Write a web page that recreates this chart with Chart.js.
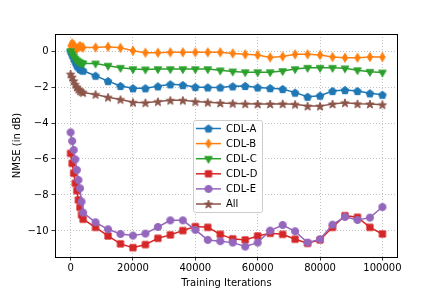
<!DOCTYPE html>
<html>
<head>
<meta charset="utf-8">
<script src="https://cdn.jsdelivr.net/npm/chart.js@4.4.0/dist/chart.umd.min.js"></script>
<style>
  html, body { margin: 0; padding: 0; background: #fff; }
  #chart { display: block; }
</style>
</head>
<body>
<canvas id="chart" width="443" height="295"></canvas>
<script>
// x values (training iterations)
const iterations = [0, 500, 1000, 1500, 2000, 2500, 3000, 3500, 4000,
  8000, 12000, 16000, 20000, 24000, 28000, 32000, 36000, 40000, 44000, 48000,
  52000, 56000, 60000, 64000, 68000, 72000, 76000, 80000, 84000, 88000, 92000, 96000, 100000];

const cdlA = [0, -0.2, -0.4, -0.6, -0.8, -0.9, -1.0, -1.05, -1.09,
  -1.37, -1.67, -1.94, -2.07, -2.07, -1.96, -1.85, -1.89, -2.0, -2.02, -2.02,
  -1.96, -1.94, -2.02, -2.06, -2.11, -2.31, -2.54, -2.48, -2.22, -2.17, -2.22, -2.35, -2.43];
const cdlB = [0.3, 0.43, 0.35, 0.2, 0.12, 0.22, 0.28, 0.22, 0.2,
  0.2, 0.24, 0.18, 0.02, -0.09, -0.09, -0.07, -0.07, -0.07, -0.07, -0.07,
  -0.13, -0.18, -0.22, -0.35, -0.3, -0.18, -0.18, -0.22, -0.33, -0.37, -0.37, -0.33, -0.33];
const cdlC = [0, -0.15, -0.3, -0.42, -0.52, -0.58, -0.63, -0.67, -0.69,
  -0.69, -0.81, -0.93, -1.0, -1.02, -1.0, -1.0, -1.0, -1.0, -1.0, -1.07,
  -1.13, -1.17, -1.17, -1.17, -1.11, -1.0, -0.93, -0.93, -0.93, -0.96, -1.06, -1.15, -1.19];
const cdlD = [-5.69, -6.24, -6.79, -7.35, -7.76, -8.28, -8.69, -9.11, -9.35,
  -9.8, -10.28, -10.72, -10.93, -10.76, -10.41, -10.22, -9.98, -9.76, -9.8, -10.19,
  -10.44, -10.5, -10.28, -10.13, -10.19, -10.46, -10.69, -10.5, -9.8, -9.15, -9.24, -9.8, -10.17];
const cdlE = [-4.52, -5.0, -5.5, -6.02, -6.61, -7.17, -7.63, -8.37, -8.98,
  -9.52, -9.91, -10.17, -10.26, -10.15, -9.78, -9.41, -9.41, -9.94, -10.5, -10.57,
  -10.65, -10.87, -10.65, -9.98, -9.67, -10.02, -10.65, -10.46, -9.65, -9.22, -9.39, -9.26, -8.67];
const allCdl = [-1.28, -1.45, -1.65, -1.85, -2.0, -2.12, -2.2, -2.26, -2.3,
  -2.41, -2.57, -2.69, -2.85, -2.87, -2.81, -2.74, -2.74, -2.81, -2.85, -2.89,
  -2.91, -2.93, -2.94, -2.94, -2.93, -2.96, -3.06, -3.06, -2.94, -2.87, -2.93, -2.94, -2.98];

const xTicks = [0, 20000, 40000, 60000, 80000, 100000];
const yTicks = [-10, -8, -6, -4, -2, 0];

const FONT = 'DejaVu Sans';

// Build marker images in matplotlib style
const makeMarker = (shape, color) => {
  const size = 14;
  const c = document.createElement('canvas');
  c.width = size; c.height = size;
  const ctx = c.getContext('2d');
  const m = size / 2;
  ctx.fillStyle = color;
  ctx.strokeStyle = color;
  ctx.lineWidth = 1;
  ctx.beginPath();
  if (shape === 'pentagon') {
    const r = 4.0;
    for (let i = 0; i < 5; i++) {
      const a = -Math.PI / 2 + i * 2 * Math.PI / 5;
      ctx.lineTo(m + r * Math.cos(a), m + r * Math.sin(a) + 0.4);
    }
  } else if (shape === 'diamond') {
    ctx.moveTo(m, m - 4.5);
    ctx.lineTo(m + 2.7, m);
    ctx.lineTo(m, m + 4.5);
    ctx.lineTo(m - 2.7, m);
  } else if (shape === 'triDown') {
    const r = 4.4;
    ctx.moveTo(m, m + r);
    ctx.lineTo(m + r * 0.87, m - r * 0.5);
    ctx.lineTo(m - r * 0.87, m - r * 0.5);
  } else if (shape === 'square') {
    ctx.rect(m - 3.1, m - 3.1, 6.2, 6.2);
  } else if (shape === 'circle') {
    ctx.arc(m, m, 3.6, 0, Math.PI * 2);
  } else if (shape === 'star') {
    const ro = 4.4, ri = 1.8;
    for (let i = 0; i < 10; i++) {
      const r = i % 2 === 0 ? ro : ri;
      const a = -Math.PI / 2 + i * Math.PI / 5;
      ctx.lineTo(m + r * Math.cos(a), m + r * Math.sin(a) + 0.5);
    }
  }
  ctx.closePath();
  ctx.fill();
  ctx.stroke();
  return c;
};

const seriesList = [
  { label: 'CDL-A', values: cdlA, color: '#1f77b4', marker: 'pentagon' },
  { label: 'CDL-B', values: cdlB, color: '#ff7f0e', marker: 'diamond' },
  { label: 'CDL-C', values: cdlC, color: '#2ca02c', marker: 'triDown' },
  { label: 'CDL-D', values: cdlD, color: '#d62728', marker: 'square' },
  { label: 'CDL-E', values: cdlE, color: '#9467bd', marker: 'circle' },
  { label: 'All', values: allCdl, color: '#8c564b', marker: 'star' }
];

const datasets = seriesList.map((s, i) => ({
  label: s.label,
  data: iterations.map((x, j) => ({ x: x, y: s.values[j] })),
  borderColor: s.color,
  backgroundColor: s.color,
  borderWidth: 1.5,
  pointStyle: makeMarker(s.marker, s.color),
  pointRadius: 4,
  tension: 0,
  order: seriesList.length - i
}));

// Frame around plot area (matplotlib spines)
const framePlugin = {
  id: 'frame',
  afterDatasetsDraw(chart) {
    const { ctx, chartArea: a } = chart;
    ctx.save();
    ctx.strokeStyle = '#000';
    ctx.lineWidth = 1;
    ctx.strokeRect(Math.round(a.left) + 0.5, Math.round(a.top) + 0.5,
      Math.round(a.right - a.left) - 1, Math.round(a.bottom - a.top));
    ctx.restore();
  }
};

// Legend box inside the plot
const legendPlugin = {
  id: 'innerLegend',
  afterDraw(chart) {
    const { ctx } = chart;
    const x0 = 193, y0 = 120, w = 69, h = 92;
    ctx.save();
    ctx.fillStyle = 'rgba(255,255,255,0.8)';
    ctx.strokeStyle = '#cccccc';
    ctx.lineWidth = 1;
    ctx.beginPath();
    ctx.roundRect(x0 + 0.5, y0 + 0.5, w, h, 2);
    ctx.fill();
    ctx.stroke();
    ctx.font = '10px ' + FONT;
    ctx.textBaseline = 'middle';
    ctx.fillStyle = '#000';
    chart.data.datasets.forEach((ds, i) => {
      const y = y0 + 8.5 + i * 15.1;
      ctx.strokeStyle = ds.borderColor;
      ctx.lineWidth = 1.5;
      ctx.beginPath();
      ctx.moveTo(x0 + 3, y);
      ctx.lineTo(x0 + 28, y);
      ctx.stroke();
      const img = ds.pointStyle;
      ctx.drawImage(img, x0 + 15.5 - img.width / 2, y - img.height / 2);
      ctx.fillStyle = '#000';
      ctx.fillText(ds.label, x0 + 33, y + 0.5);
    });
    ctx.restore();
  }
};

new Chart(document.getElementById('chart'), {
  type: 'line',
  data: { datasets: datasets },
  plugins: [framePlugin, legendPlugin],
  options: {
    responsive: false,
    animation: false,
    events: [],
    layout: { padding: { left: 0, top: 34, right: 45, bottom: 0 } },
    plugins: { legend: { display: false }, tooltip: { enabled: false } },
    scales: {
      x: {
        type: 'linear',
        min: -5000,
        max: 105000,
        afterBuildTicks: (scale) => { scale.ticks = xTicks.map(v => ({ value: v })); },
        afterFit: (scale) => { scale.height = 38; },
        ticks: {
          color: '#000',
          font: { family: FONT, size: 10 },
          padding: 2,
          maxRotation: 0,
          callback: (v) => String(v)
        },
        grid: {
          color: '#b0b0b0',
          lineWidth: 0.8,
          tickColor: '#000',
          tickLength: 3.5,
          tickWidth: 0.8,
          tickBorderDash: []
        },
        border: { display: false, dash: [1, 2] },
        title: {
          display: true,
          text: 'Training Iterations',
          color: '#000',
          font: { family: FONT, size: 10 },
          padding: { top: 0, bottom: 6 }
        }
      },
      y: {
        type: 'linear',
        min: -11.45,
        max: 0.95,
        afterBuildTicks: (scale) => { scale.ticks = yTicks.map(v => ({ value: v })); },
        afterFit: (scale) => { scale.width = 55; },
        ticks: {
          color: '#000',
          font: { family: FONT, size: 10 },
          padding: 3,
          callback: (v) => String(v).replace('-', '\u2212')
        },
        grid: {
          color: '#b0b0b0',
          lineWidth: 0.8,
          tickColor: '#000',
          tickLength: 3.5,
          tickWidth: 0.8,
          tickBorderDash: []
        },
        border: { display: false, dash: [1, 2] },
        title: {
          display: true,
          text: 'NMSE (in dB)',
          color: '#000',
          font: { family: FONT, size: 10 },
          padding: { top: 11, bottom: 0 }
        }
      }
    }
  }
});
</script>
</body>
</html>
